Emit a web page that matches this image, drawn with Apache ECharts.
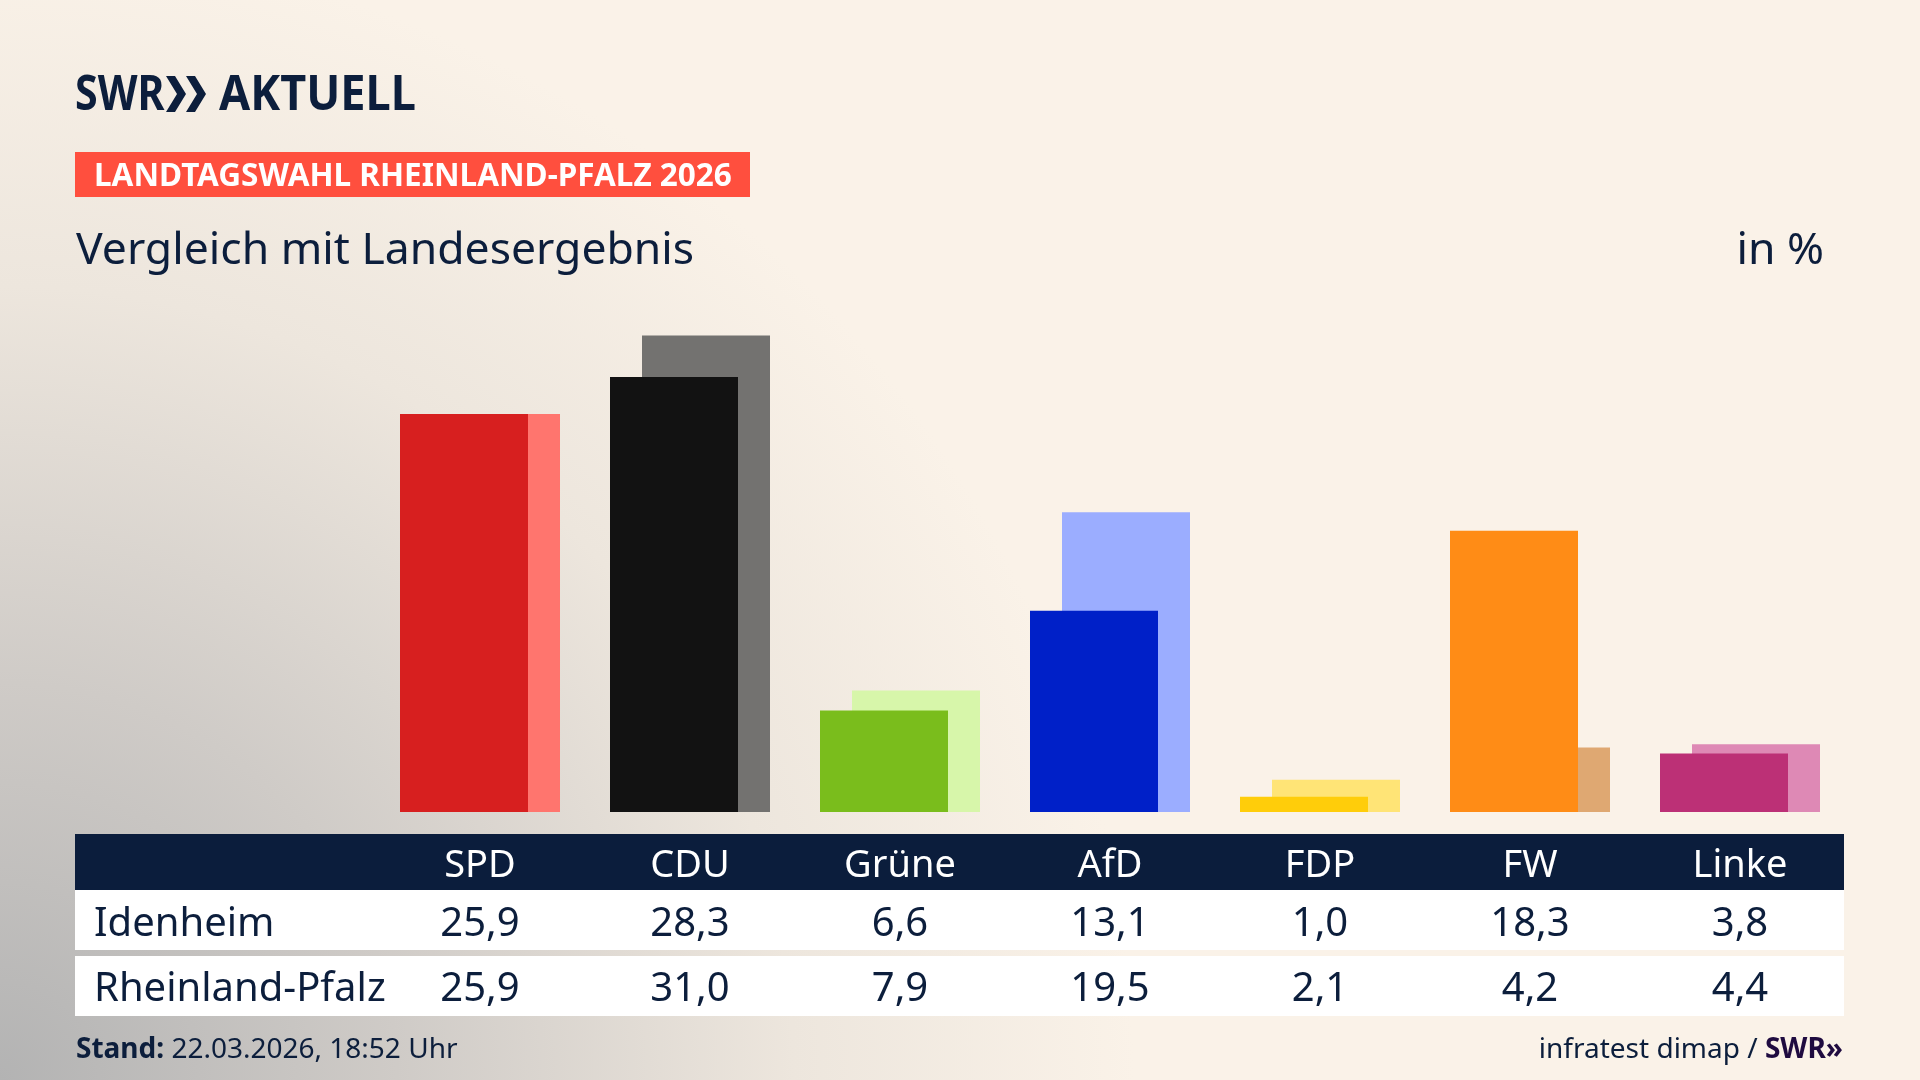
<!DOCTYPE html>
<html>
<head>
<meta charset="utf-8">
<script src="https://cdn.jsdelivr.net/npm/echarts@6/dist/echarts.min.js"></script>
<style>html,body{margin:0;padding:0;overflow:hidden;} #c{width:1920px;height:1080px;}</style>
</head>
<body>
<div id="c"></div>
<script>
// ---- data ----
const parties = ['SPD', 'CDU', 'Grüne', 'AfD', 'FDP', 'FW', 'Linke'];
const idenheim = [25.9, 28.3, 6.6, 13.1, 1.0, 18.3, 3.8];
const rheinlandPfalz = [25.9, 31.0, 7.9, 19.5, 2.1, 4.2, 4.4];
const rowLabels = ['Idenheim', 'Rheinland-Pfalz'];

// ---- styles ----
const darkColors = ['#D71F1F', '#121212', '#7ABD1C', '#0020C8', '#FFCD0A', '#FF8C16', '#BC3076'];
const lightColors = ['#FF756E', '#737270', '#D7F6AA', '#9BADFF', '#FFE476', '#DFA872', '#DE89B5'];
const FONT = '"Noto Sans", sans-serif';
const NAVY = '#0C1E3C';
const fmt = v => v.toFixed(1).replace('.', ',');

const chart = echarts.init(document.getElementById('c'), null, { renderer: 'canvas', width: 1920, height: 1080 });

function rowAxis(labels, margin) {
  return {
    type: 'category', data: labels, position: 'bottom', z: 10,
    axisLine: { show: false }, axisTick: { show: false }, splitLine: { show: false },
    axisLabel: { interval: 0, margin: margin, verticalAlign: 'middle', color: NAVY, fontSize: 40, fontFamily: FONT }
  };
}

const chev = (x0) => ({
  type: 'polygon', z: 20,
  shape: { points: [[x0, 76], [x0 + 9, 76], [x0 + 20, 94], [x0 + 9, 112], [x0, 112], [x0 + 11, 94]] },
  style: { fill: NAVY }
});

const option = {
  animation: false,
  grid: { left: 375, right: 75, top: 274, bottom: 268, containLabel: false },
  xAxis: [
    {
      type: 'category', data: parties, position: 'bottom', z: 10,
      axisLine: { show: false }, axisTick: { show: false }, splitLine: { show: false },
      axisLabel: { interval: 0, margin: 54, verticalAlign: 'middle', color: '#FFFFFF', fontSize: 38, fontFamily: FONT }
    },
    rowAxis(idenheim.map(fmt), 113),
    rowAxis(rheinlandPfalz.map(fmt), 178)
  ],
  yAxis: { type: 'value', min: 0, max: 35, show: false, splitLine: { show: false } },
  series: [
    {
      type: 'bar', name: rowLabels[0], data: idenheim, barWidth: 128, barGap: '-75%', z: 3,
      itemStyle: { color: p => darkColors[p.dataIndex] }
    },
    {
      type: 'bar', name: rowLabels[1], data: rheinlandPfalz, barWidth: 128, barGap: '-75%', z: 2,
      itemStyle: { color: p => lightColors[p.dataIndex] }
    }
  ],
  graphic: [
    {
      type: 'rect', z: -100, silent: true,
      shape: { x: 0, y: 0, width: 1920, height: 1080 },
      style: {
        fill: new echarts.graphic.RadialGradient(0, 1, 1.05, [
          { offset: 0, color: '#B3B3B3' },
          { offset: 0.35, color: '#CFCBC7' },
          { offset: 0.7, color: '#EDE6DD' },
          { offset: 1, color: '#FAF2E8' }
        ])
      }
    },
    // logo
    { type: 'text', z: 20, x: 75, y: 96, scaleX: 0.84, style: { text: 'SWR', x: 0, y: 0, font: 'bold 49px ' + FONT, fill: NAVY, textVerticalAlign: 'middle' } },
    chev(166), chev(186),
    { type: 'text', z: 20, x: 219, y: 96, scaleX: 0.92, style: { text: 'AKTUELL', x: 0, y: 0, font: 'bold 49px ' + FONT, fill: NAVY, textVerticalAlign: 'middle' } },
    // red label
    { type: 'rect', z: 1, shape: { x: 75, y: 152, width: 675, height: 45 }, style: { fill: '#FF4F3E' } },
    { type: 'text', z: 20, style: { text: 'LANDTAGSWAHL RHEINLAND-PFALZ 2026', x: 94, y: 177, font: 'bold 31.5px ' + FONT, fill: '#FFFFFF', textVerticalAlign: 'middle' } },
    // subtitle
    { type: 'text', z: 20, style: { text: 'Vergleich mit Landesergebnis', x: 76, y: 251, font: '44.5px ' + FONT, fill: NAVY, textVerticalAlign: 'middle' } },
    { type: 'text', z: 20, style: { text: 'in %', x: 1824, y: 251, font: '44.5px ' + FONT, fill: NAVY, textAlign: 'right', textVerticalAlign: 'middle' } },
    // table
    { type: 'rect', z: 1, shape: { x: 75, y: 834, width: 1769, height: 56 }, style: { fill: '#0B1D3C' } },
    { type: 'rect', z: 1, shape: { x: 75, y: 890, width: 1769, height: 60 }, style: { fill: '#FFFFFF' } },
    { type: 'rect', z: 1, shape: { x: 75, y: 956, width: 1769, height: 60 }, style: { fill: '#FFFFFF' } },
    { type: 'text', z: 20, style: { text: rowLabels[0], x: 94, y: 925, font: '40px ' + FONT, fill: NAVY, textVerticalAlign: 'middle' } },
    { type: 'text', z: 20, style: { text: rowLabels[1], x: 94, y: 990, font: '40px ' + FONT, fill: NAVY, textVerticalAlign: 'middle' } },
    // footer
    {
      type: 'text', z: 20,
      style: {
        text: '{b|Stand:}{n| 22.03.2026, 18:52 Uhr}', x: 76, y: 1050, textVerticalAlign: 'middle',
        rich: {
          b: { font: 'bold 28px ' + FONT, fill: NAVY },
          n: { font: '28px ' + FONT, fill: NAVY }
        }
      }
    },
    {
      type: 'text', z: 20,
      style: {
        text: '{n|infratest dimap / }{b|SWR»}', x: 1843, y: 1050, textAlign: 'right', textVerticalAlign: 'middle',
        rich: {
          b: { font: 'bold 28px ' + FONT, fill: '#1F0B40' },
          n: { font: '28px ' + FONT, fill: NAVY }
        }
      }
    }
  ]
};
chart.setOption(option);
</script>
</body>
</html>
